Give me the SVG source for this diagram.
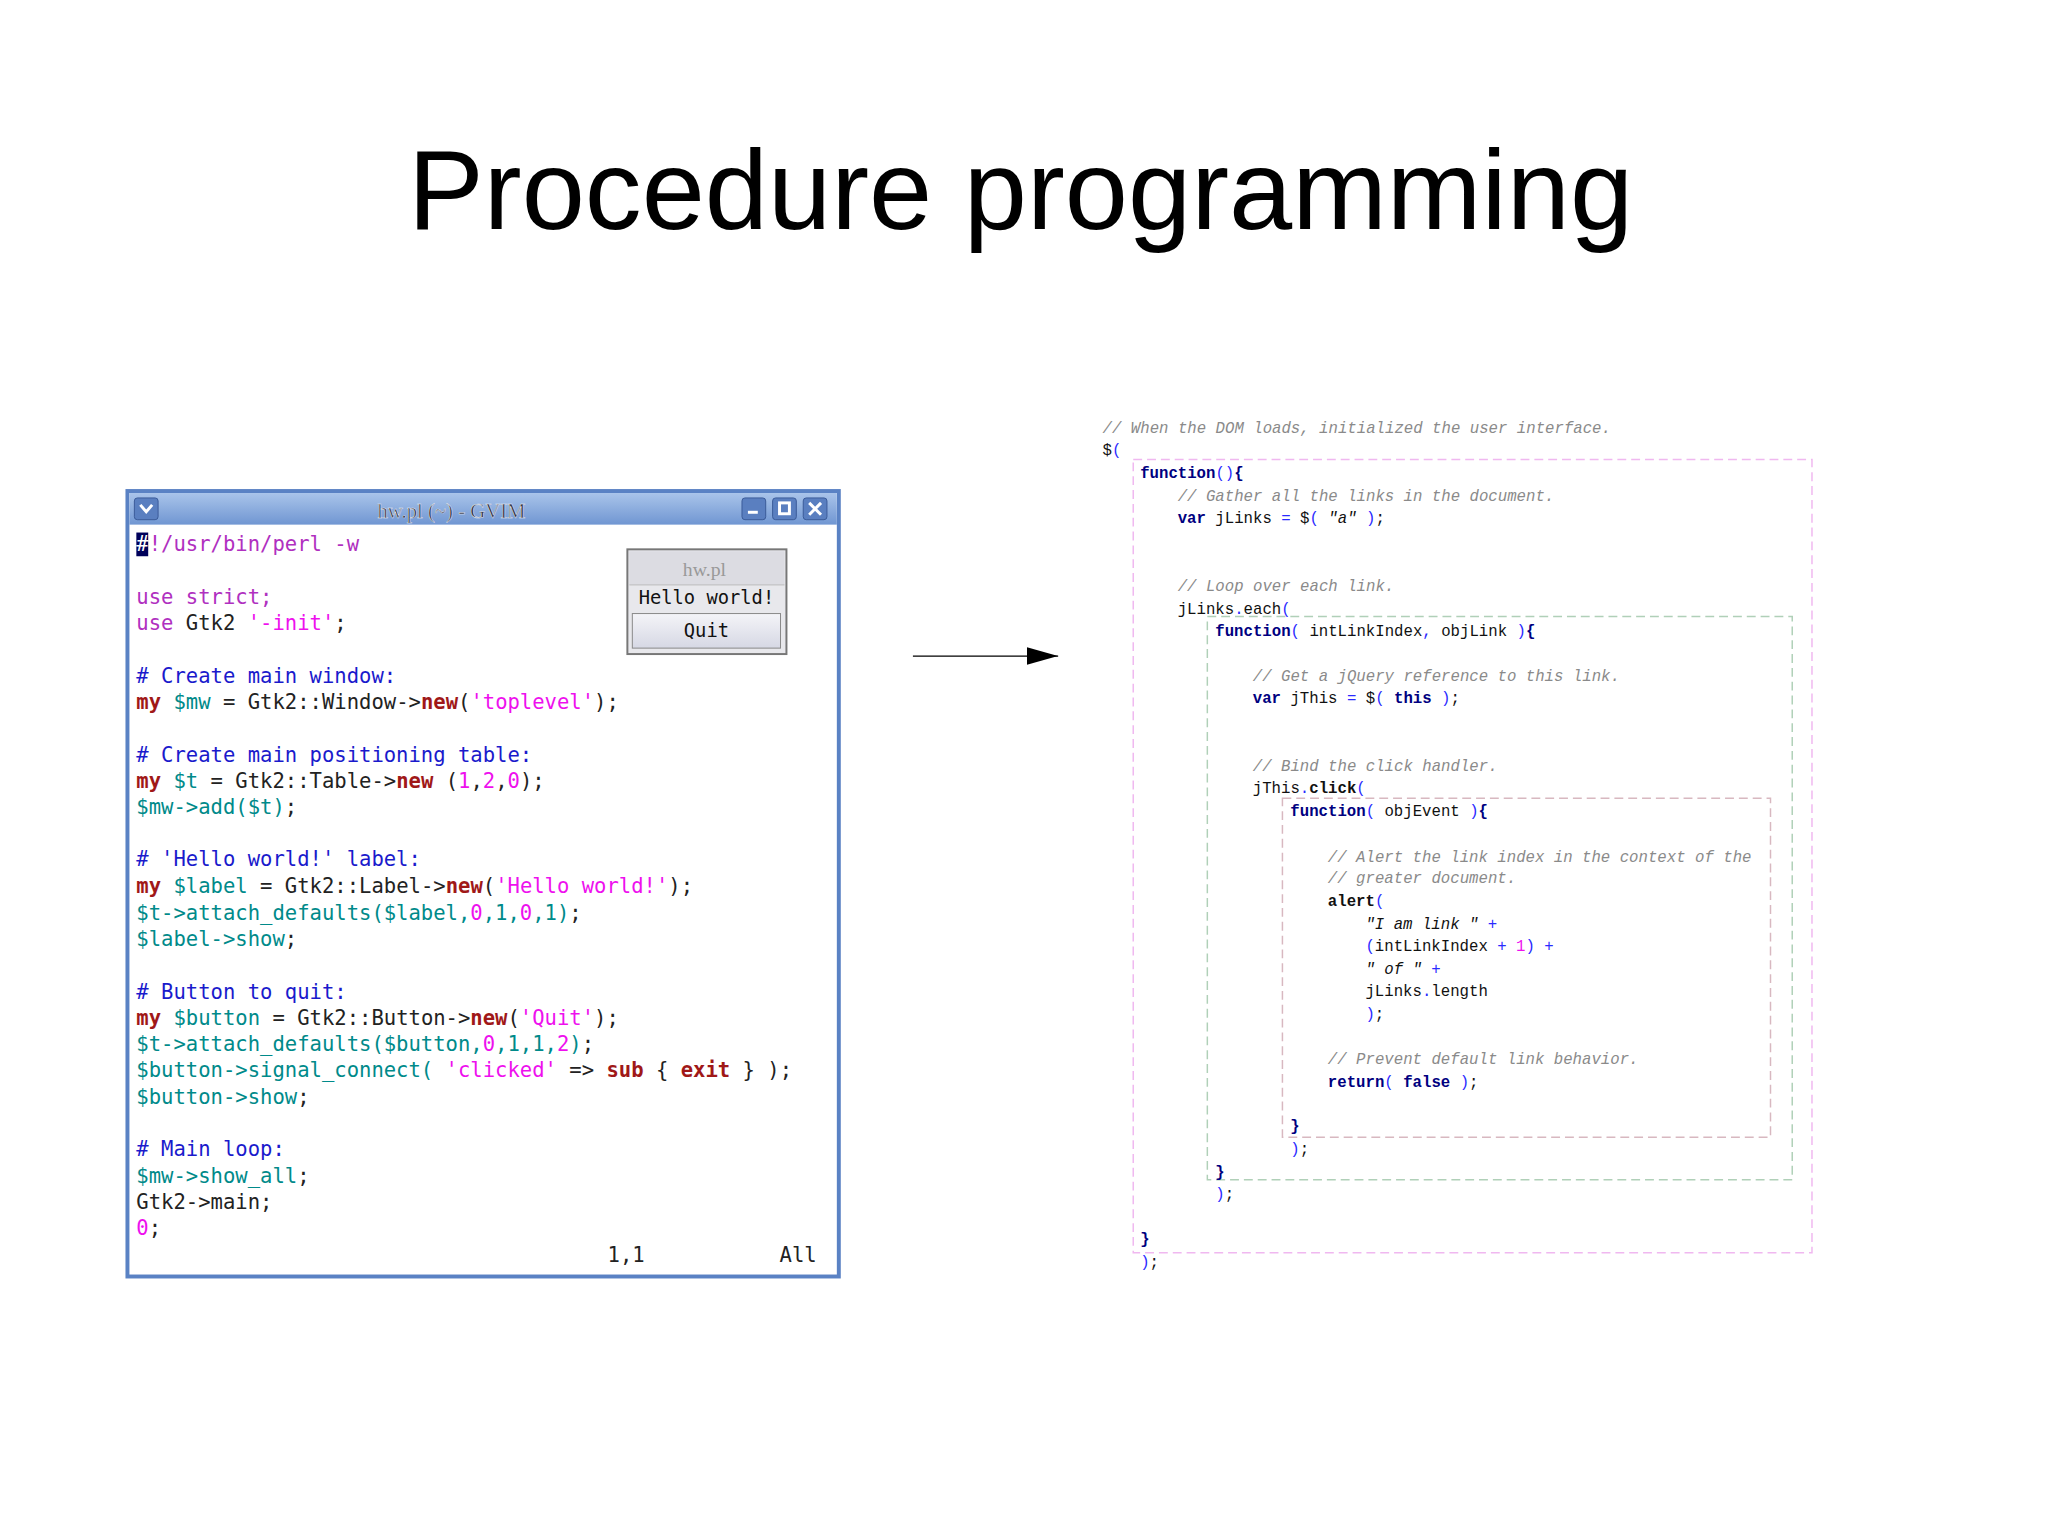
<svg xmlns="http://www.w3.org/2000/svg" width="2048" height="1535" viewBox="0 0 2048 1535">
<defs>
<linearGradient id="tb" x1="0" y1="0" x2="0" y2="1"><stop offset="0" stop-color="#a9c4ea"/><stop offset="1" stop-color="#7096d2"/></linearGradient>
<linearGradient id="btn" x1="0" y1="0" x2="0" y2="1"><stop offset="0" stop-color="#f4f4f8"/><stop offset="1" stop-color="#d6d8e4"/></linearGradient>
<marker id="ah" markerWidth="32" markerHeight="18" refX="32" refY="9" orient="auto" markerUnits="userSpaceOnUse"><path d="M0,0 L32,9 L0,18 Z" fill="#000"/></marker>
</defs>
<style>
.title{font-family:"Liberation Sans",Arial,sans-serif;font-size:115px;fill:#000}
.vim{font-family:"DejaVu Sans Mono",monospace;font-size:20.8px;fill:#222}
.c{fill:#1a1acc}.k{fill:#a01818;font-weight:bold}.v{fill:#008a8a}.s{fill:#ee10ee}.u{fill:#b030c0}
.js{font-family:"Liberation Mono","Courier New",monospace;font-size:15.9px;fill:#111}
.cm{fill:#8a8a8a;font-style:italic}.kw{fill:#000080;font-weight:bold}.p{fill:#2a2aff}.n{fill:#ee10ee}.st{font-style:italic}
</style>
<rect width="2048" height="1535" fill="#fff"/>
<g transform="scale(0.988)">
<text class="title" x="1033" y="232" text-anchor="middle">Procedure programming</text>

<g id="gvim">
<rect x="129" y="497" width="720" height="795" fill="#fff" stroke="#5a82c4" stroke-width="4"/>
<rect x="131" y="499" width="716" height="32" fill="url(#tb)"/>
<rect x="136" y="504" width="24" height="22" rx="3" fill="#5a7fc0" stroke="#3a5a98"/>
<path d="M142,511 L148,518 L154,511" fill="none" stroke="#fff" stroke-width="3"/>
<text x="457" y="524" text-anchor="middle" font-family="Liberation Serif,serif" font-size="21" fill="#2a2a3a" stroke="#e8eef8" stroke-width="0.5">hw.pl (~) - GVIM</text>
<rect x="751" y="504" width="24" height="22" rx="3" fill="#5a7fc0" stroke="#3a5a98"/>
<rect x="757" y="517" width="10" height="3" fill="#fff"/>
<rect x="782" y="504" width="24" height="22" rx="3" fill="#5a7fc0" stroke="#3a5a98"/>
<rect x="789" y="509" width="10" height="11" fill="none" stroke="#fff" stroke-width="3"/>
<rect x="813" y="504" width="24" height="22" rx="3" fill="#5a7fc0" stroke="#3a5a98"/>
<path d="M819,509 L831,521 M831,509 L819,521" stroke="#fff" stroke-width="3"/>
<rect x="138" y="539" width="12" height="24" fill="#00005a"/>
<g class="vim" xml:space="preserve">
<text x="138" y="558"><tspan fill="#fff">#</tspan><tspan class="u">!/usr/bin/perl -w</tspan></text>
<text x="138" y="611"><tspan class="u">use strict;</tspan></text>
<text x="138" y="638"><tspan class="u">use</tspan> Gtk2 <tspan class="s">'-init'</tspan>;</text>
<text x="138" y="691"><tspan class="c"># Create main window:</tspan></text>
<text x="138" y="718"><tspan class="k">my</tspan> <tspan class="v">$mw</tspan> = Gtk2::Window-&gt;<tspan class="k">new</tspan>(<tspan class="s">'toplevel'</tspan>);</text>
<text x="138" y="771"><tspan class="c"># Create main positioning table:</tspan></text>
<text x="138" y="798"><tspan class="k">my</tspan> <tspan class="v">$t</tspan> = Gtk2::Table-&gt;<tspan class="k">new</tspan> (<tspan class="s">1</tspan>,<tspan class="s">2</tspan>,<tspan class="s">0</tspan>);</text>
<text x="138" y="824"><tspan class="v">$mw-&gt;add($t)</tspan>;</text>
<text x="138" y="877"><tspan class="c"># 'Hello world!' label:</tspan></text>
<text x="138" y="904"><tspan class="k">my</tspan> <tspan class="v">$label</tspan> = Gtk2::Label-&gt;<tspan class="k">new</tspan>(<tspan class="s">'Hello world!'</tspan>);</text>
<text x="138" y="931"><tspan class="v">$t-&gt;attach_defaults($label,</tspan><tspan class="s">0</tspan><tspan class="v">,1,</tspan><tspan class="s">0</tspan><tspan class="v">,1)</tspan>;</text>
<text x="138" y="957"><tspan class="v">$label-&gt;show</tspan>;</text>
<text x="138" y="1011"><tspan class="c"># Button to quit:</tspan></text>
<text x="138" y="1037"><tspan class="k">my</tspan> <tspan class="v">$button</tspan> = Gtk2::Button-&gt;<tspan class="k">new</tspan>(<tspan class="s">'Quit'</tspan>);</text>
<text x="138" y="1064"><tspan class="v">$t-&gt;attach_defaults($button,</tspan><tspan class="s">0</tspan><tspan class="v">,1,1,</tspan><tspan class="s">2</tspan><tspan class="v">)</tspan>;</text>
<text x="138" y="1090"><tspan class="v">$button-&gt;signal_connect(</tspan> <tspan class="s">'clicked'</tspan> =&gt; <tspan class="k">sub</tspan> { <tspan class="k">exit</tspan> } );</text>
<text x="138" y="1117"><tspan class="v">$button-&gt;show</tspan>;</text>
<text x="138" y="1170"><tspan class="c"># Main loop:</tspan></text>
<text x="138" y="1197"><tspan class="v">$mw-&gt;show_all</tspan>;</text>
<text x="138" y="1224">Gtk2-&gt;main;</text>
<text x="138" y="1250"><tspan class="s">0</tspan>;</text>
<text x="615" y="1277">1,1</text>
<text x="789" y="1277">All</text>
</g>
</g>

<g id="hwpl">
<rect x="635" y="556" width="161" height="106" fill="#e8e8ec" stroke="#777" stroke-width="2"/>
<rect x="637" y="558" width="157" height="34" fill="#dcdce2"/>
<text x="713" y="583" text-anchor="middle" font-family="Liberation Serif,serif" font-size="20" fill="#999">hw.pl</text>
<line x1="637" y1="592" x2="794" y2="592" stroke="#bbb"/>
<text x="715" y="611" text-anchor="middle" font-family="DejaVu Sans Mono,monospace" font-size="19" fill="#111">Hello world!</text>
<rect x="640" y="621" width="150" height="35" fill="url(#btn)" stroke="#888"/>
<text x="715" y="645" text-anchor="middle" font-family="DejaVu Sans Mono,monospace" font-size="19" fill="#111">Quit</text>
</g>

<g id="connectors">
<line x1="924" y1="664" x2="1071" y2="664" stroke="#000" stroke-width="1.3" marker-end="url(#ah)"/>
</g>

<g id="jscode">
<rect x="1147" y="465" width="687" height="803" fill="none" stroke="#f0b8f0" stroke-width="1.5" stroke-dasharray="9,5"/>
<rect x="1222" y="624" width="592" height="570" fill="none" stroke="#b0d0b8" stroke-width="1.5" stroke-dasharray="9,5"/>
<rect x="1298" y="808" width="494" height="343" fill="none" stroke="#d8b8c0" stroke-width="1.5" stroke-dasharray="9,5"/>
<g class="js" xml:space="preserve">
<text x="1116" y="438" class="cm">// When the DOM loads, initialized the user interface.</text>
<text x="1116" y="461">$<tspan class="p">(</tspan></text>
<text x="1154" y="484"><tspan class="kw">function</tspan><tspan class="p">()</tspan><tspan class="kw">{</tspan></text>
<text x="1192" y="507" class="cm">// Gather all the links in the document.</text>
<text x="1192" y="529"><tspan class="kw">var</tspan> jLinks <tspan class="p">=</tspan> $<tspan class="p">(</tspan> <tspan class="st">"a"</tspan> <tspan class="p">)</tspan>;</text>
<text x="1192" y="598" class="cm">// Loop over each link.</text>
<text x="1192" y="621">jLinks<tspan class="p">.</tspan>each<tspan class="p">(</tspan></text>
<text x="1230" y="644"><tspan class="kw">function</tspan><tspan class="p">(</tspan> intLinkIndex<tspan class="p">,</tspan> objLink <tspan class="p">)</tspan><tspan class="kw">{</tspan></text>
<text x="1268" y="689" class="cm">// Get a jQuery reference to this link.</text>
<text x="1268" y="712"><tspan class="kw">var</tspan> jThis <tspan class="p">=</tspan> $<tspan class="p">(</tspan> <tspan class="kw">this</tspan> <tspan class="p">)</tspan>;</text>
<text x="1268" y="780" class="cm">// Bind the click handler.</text>
<text x="1268" y="803">jThis<tspan class="p">.</tspan><tspan font-weight="bold">click</tspan><tspan class="p">(</tspan></text>
<text x="1306" y="826"><tspan class="kw">function</tspan><tspan class="p">(</tspan> objEvent <tspan class="p">)</tspan><tspan class="kw">{</tspan></text>
<text x="1344" y="872" class="cm">// Alert the link index in the context of the</text>
<text x="1344" y="894" class="cm">// greater document.</text>
<text x="1344" y="917"><tspan font-weight="bold">alert</tspan><tspan class="p">(</tspan></text>
<text x="1382" y="940"><tspan class="st">"I am link "</tspan> <tspan class="p">+</tspan></text>
<text x="1382" y="963"><tspan class="p">(</tspan>intLinkIndex <tspan class="p">+</tspan> <tspan class="n">1</tspan><tspan class="p">)</tspan> <tspan class="p">+</tspan></text>
<text x="1382" y="986"><tspan class="st">" of "</tspan> <tspan class="p">+</tspan></text>
<text x="1382" y="1008">jLinks<tspan class="p">.</tspan>length</text>
<text x="1382" y="1031"><tspan class="p">)</tspan>;</text>
<text x="1344" y="1077" class="cm">// Prevent default link behavior.</text>
<text x="1344" y="1100"><tspan class="kw">return</tspan><tspan class="p">(</tspan> <tspan class="kw">false</tspan> <tspan class="p">)</tspan>;</text>
<text x="1306" y="1145" class="kw">}</text>
<text x="1306" y="1168"><tspan class="p">)</tspan>;</text>
<text x="1230" y="1191" class="kw">}</text>
<text x="1230" y="1214"><tspan class="p">)</tspan>;</text>
<text x="1154" y="1259" class="kw">}</text>
<text x="1154" y="1282"><tspan class="p">)</tspan>;</text>
</g>
</g>
</g>
</svg>
